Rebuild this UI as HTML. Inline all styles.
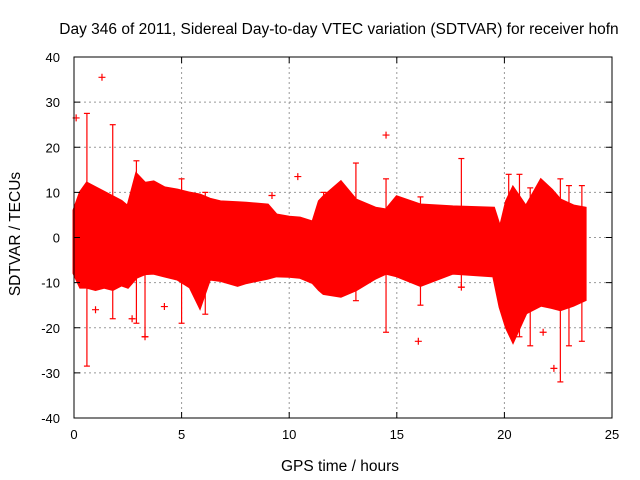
<!DOCTYPE html>
<html><head><meta charset="utf-8"><style>
html,body{margin:0;padding:0;background:#fff;}
svg{display:block;font-family:"Liberation Sans",sans-serif;}
</style></head><body>
<svg id="chart" width="640" height="480">
<text x="339" y="34" font-size="15.5" text-anchor="middle">Day 346 of 2011, Sidereal Day-to-day VTEC variation (SDTVAR) for receiver hofn</text>
<text x="340" y="471" font-size="15.5" text-anchor="middle">GPS time / hours</text>
<text transform="translate(20,234) rotate(-90)" font-size="15.5" text-anchor="middle">SDTVAR / TECUs</text>
<g id="grid"></g><g id="data"></g><g id="axes"></g>
</svg>
<script>
const envHours = [0,0.3,0.6,1.0,1.4,1.8,2.2,2.5,2.9,3.3,3.7,4.2,4.8,5.4,5.85,6.3,6.8,7.6,8,9,9.4,10,10.5,11.1,11.4,11.6,12.4,13.1,14,14.5,15,16.1,17.6,19.5,19.8,20.1,20.4,21,21.7,22.2,22.6,23.2,23.75];
const envUpper = [6,10,12,11,10,9,8,6.8,14,12,12.3,11,10.5,9.8,9.4,8.5,7.9,7.7,7.6,7.2,5,4.5,4.3,3.4,8,9,12.3,8.3,6.5,6.1,9,7.2,6.8,6.5,2,8,11,6.8,12.7,10.5,8.3,7,6.5];
const envLower = [-7.9,-11,-11,-11.5,-11,-11.5,-10.5,-11,-8.8,-8,-7.9,-8.5,-9.2,-11,-15.4,-9.2,-9.5,-10.6,-10,-9,-8.5,-8.6,-8.8,-10,-11.6,-12.4,-13,-11.6,-9,-7.9,-8.5,-10.6,-7.9,-8.5,-15.4,-20,-23,-16.7,-15,-15.5,-16,-15,-13.8];
const spikeHours = [0.6,1.8,2.9,3.3,5.0,6.1,11.6,13.1,14.5,16.1,18.0,20.2,20.7,21.2,22.6,23.0,23.6];
const spikeLow = [-28.5,-18,-19,-22,-19,-17,-11,-14,-21,-15,-11,-20,-22,-24,-32,-24,-23];
const spikeHigh = [27.5,25,17,12,13,10,10,16.5,13,9,17.5,14,14,11,13,11.5,11.5];
const outHours = [0.1,1.3,14.5,10.4,9.2,16.0,4.2,1.0,2.7,3.3,18.0,21.8,22.3];
const outValues = [26.5,35.5,22.7,13.5,9.3,-23,-15.3,-16,-18,-22,-11,-21,-29];
const xTicks = [0,5,10,15,20,25];
const yTicks = [-40,-30,-20,-10,0,10,20,30,40];
const L=74,R=612,T=57,B=418;
const xs=h=>L+(h/25)*(R-L);
const ys=v=>B-((v+40)/80)*(B-T);
const NS='http://www.w3.org/2000/svg';
function mk(tag,attrs,parent){const e=document.createElementNS(NS,tag);for(const k in attrs)e.setAttribute(k,attrs[k]);parent.appendChild(e);return e;}
const grid=document.getElementById('grid'),data=document.getElementById('data'),axes=document.getElementById('axes');
xTicks.forEach(t=>{
  if(t>0&&t<25){const g=mk('line',{x1:xs(t),x2:xs(t),y1:T,y2:B,stroke:'#999','stroke-dasharray':'2,3'},grid);
  
  }
  mk('line',{x1:xs(t),x2:xs(t),y1:B,y2:B-6,stroke:'#000'},axes);
  mk('line',{x1:xs(t),x2:xs(t),y1:T,y2:T+6,stroke:'#000'},axes);
  const tx=mk('text',{x:xs(t),y:B+21,'font-size':13,'text-anchor':'middle'},axes);tx.textContent=t;
  
  
});
yTicks.forEach(t=>{
  if(t>-40&&t<40){const g=mk('line',{x1:L,x2:R,y1:ys(t),y2:ys(t),stroke:'#999','stroke-dasharray':'2,3'},grid);
  
  }
  mk('line',{x1:L,x2:L+6,y1:ys(t),y2:ys(t),stroke:'#000'},axes);
  mk('line',{x1:R,x2:R-6,y1:ys(t),y2:ys(t),stroke:'#000'},axes);
  const tx=mk('text',{x:L-14,y:ys(t)+5,'font-size':13,'text-anchor':'end'},axes);tx.textContent=t;
  
  
});
const frame=mk('rect',{x:L,y:T,width:R-L,height:B-T,fill:'none',stroke:'#000'},axes);


let pts=envHours.map((h,i)=>xs(h)+','+ys(envUpper[i]));
for(let i=envHours.length-1;i>=0;i--)pts.push(xs(envHours[i])+','+ys(envLower[i]));
const band=mk('polygon',{points:pts.join(' '),fill:'#ff0000',stroke:'#ff0000','stroke-width':3},data);


spikeHours.forEach((h,i)=>{
  const g=mk('g',{stroke:'#ff0000','stroke-width':1.2},data);
  
  
  mk('line',{x1:xs(h),x2:xs(h),y1:ys(spikeLow[i]),y2:ys(spikeHigh[i])},g);
  mk('line',{x1:xs(h)-3,x2:xs(h)+3,y1:ys(spikeLow[i]),y2:ys(spikeLow[i])},g);
  mk('line',{x1:xs(h)-3,x2:xs(h)+3,y1:ys(spikeHigh[i]),y2:ys(spikeHigh[i])},g);
});
outHours.forEach((h,i)=>{
  const g=mk('path',{d:`M${xs(h)-3.5},${ys(outValues[i])}h7M${xs(h)},${ys(outValues[i])-3.5}v7`,stroke:'#ff0000','stroke-width':1.2,fill:'none'},data);
  
  
});
</script>
</body></html>
